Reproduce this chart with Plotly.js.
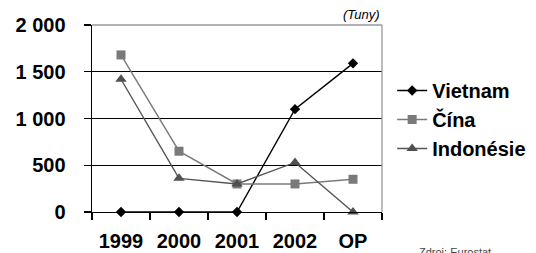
<!DOCTYPE html>
<html><head><meta charset="utf-8">
<script src="https://cdn.plot.ly/plotly-3.0.1.min.js"></script>
<style>html,body{margin:0;padding:0;background:#fff;}#c{width:536px;height:253px;}</style>
</head><body><div id="c"></div>
<script>
const categories = ["1999", "2000", "2001", "2002", "OP"];
const vietnam = [0, 0, 0, 1100, 1590];
const cina = [1680, 650, 300, 300, 350];
const indonesie = [1420, 360, 300, 530, 0];
const yTickVals = [0, 500, 1000, 1500, 2000];
const yTickText = ["0", "500", "1 000", "1 500", "2 000"];

const fam = "Liberation Sans, Arial, sans-serif";
const traces = [
  {name: "<b>Vietnam</b>", x: categories, y: vietnam, mode: "lines+markers",
   line: {color: "#000", width: 1.4}, marker: {symbol: "diamond", size: 8, color: "#000"}, cliponaxis: false},
  {name: "<b>Čína</b>", x: categories, y: cina, mode: "lines+markers",
   line: {color: "#7a7a7a", width: 1.4}, marker: {symbol: "square", size: 9, color: "#7a7a7a"}, cliponaxis: false},
  {name: "<b>Indonésie</b>", x: categories, y: indonesie, mode: "lines+markers",
   line: {color: "#555", width: 1.4}, marker: {symbol: "triangle-up", size: 10, color: "#505050"}, cliponaxis: false}
];
const layout = {
  width: 536, height: 253,
  margin: {l: 92, r: 154, t: 25, b: 41, autoexpand: false},
  paper_bgcolor: "#fff", plot_bgcolor: "#fff",
  font: {family: fam, size: 20, color: "#000"},
  showlegend: true,
  legend: {x: 1.035, xanchor: "left", y: 0.495, yanchor: "middle", font: {family: fam, size: 20, color: "#000"},
           bgcolor: "rgba(0,0,0,0)", borderwidth: 0, tracegroupgap: 0, itemwidth: 30},
  xaxis: {type: "category", range: [-0.5, 4.5], showgrid: false, zeroline: false,
          showline: true, linecolor: "#000", linewidth: 1.4,
          ticks: "outside", tickson: "boundaries", ticklen: 7, tickcolor: "#000", tickwidth: 1.4,
          tickfont: {family: fam, size: 20, color: "#000", weight: "bold"}, ticklabelstandoff: 11},
  yaxis: {range: [0, 2000], tickvals: yTickVals, ticktext: yTickText, showgrid: true, gridcolor: "#000", gridwidth: 1.3,
          zeroline: false, showline: true, linecolor: "#000", linewidth: 1.4,
          ticks: "outside", ticklen: 7, tickcolor: "#000", tickwidth: 1.4,
          tickfont: {family: fam, size: 20, color: "#000", weight: "bold"}, ticklabelstandoff: 14},
  shapes: [
    {type: "line", xref: "paper", yref: "paper", x0: 0, x1: 1, y0: 1, y1: 1, line: {color: "#999", width: 1.3}},
    {type: "line", xref: "paper", yref: "paper", x0: 1, x1: 1, y0: 0, y1: 1, line: {color: "#999", width: 1.3}},
    {type: "line", xref: "paper", yref: "y", x0: -0.025, x1: 0, y0: 0, y1: 0, line: {color: "#000", width: 1.4}}
  ],
  annotations: [
    {text: "<i>(Tuny)</i>", xref: "paper", yref: "paper", x: 1, y: 1, xanchor: "right", yanchor: "bottom", yshift: 1,
     showarrow: false, font: {family: fam, size: 13, color: "#000"}},
    {text: "Zdroj: Eurostat", xref: "paper", yref: "paper", x: 1.12, y: 0, xanchor: "left", yanchor: "top", yshift: -32,
     showarrow: false, font: {family: fam, size: 11, color: "#444"}}
  ]
};
Plotly.newPlot("c", traces, layout, {staticPlot: true, displayModeBar: false});
</script></body></html>
